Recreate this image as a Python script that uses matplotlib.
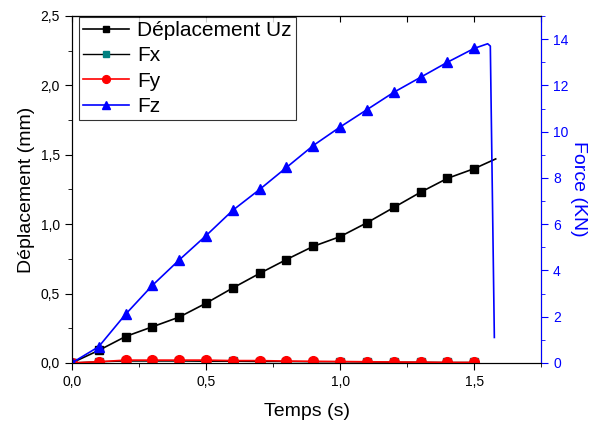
import matplotlib.pyplot as plt
from matplotlib.ticker import MultipleLocator, FuncFormatter, NullFormatter

plt.rcParams['font.family'] = ['Liberation Sans', 'DejaVu Sans']

# Temps (s)
t = [0.0, 0.1, 0.2, 0.3, 0.4, 0.5, 0.6, 0.7, 0.8, 0.9, 1.0, 1.1, 1.2, 1.3, 1.4, 1.5]

# Deplacement Uz (mm)
t_uz = t + [1.58]
uz = [0.0, 0.09, 0.19, 0.26, 0.33, 0.43, 0.54, 0.645, 0.745, 0.84, 0.91,
      1.01, 1.12, 1.23, 1.33, 1.40, 1.47]

# Forces (KN)
fx = [0.0, 0.05, 0.08, 0.08, 0.08, 0.07, 0.07, 0.06, 0.06, 0.05, 0.05,
      0.04, 0.03, 0.03, 0.02, 0.02]
fy = [0.0, 0.05, 0.12, 0.12, 0.12, 0.12, 0.1, 0.1, 0.08, 0.07, 0.06,
      0.05, 0.04, 0.03, 0.02, 0.02]
t_fz = t + [1.55, 1.56, 1.575]
fz = [0.0, 0.7, 2.1, 3.35, 4.45, 5.5, 6.6, 7.5, 8.45, 9.4, 10.2, 10.95,
      11.7, 12.35, 13.0, 13.6, 13.8, 13.7, 1.1]


def comma(v, pos):
    return f"{v:.1f}".replace(".", ",")


fig = plt.figure(figsize=(5.89, 4.21), dpi=100)
ax = fig.add_axes([0.122, 0.138, 0.797, 0.824])
ax2 = ax.twinx()

l1, = ax.plot(t_uz, uz, color="black", lw=1.2, marker="s", ms=6,
              markevery=list(range(len(t))), label="Déplacement Uz")
l2, = ax2.plot(t, fx, color="black", lw=1.0, marker="s", ms=6,
               mfc="#008080", mec="#008080", label="Fx")
l3, = ax2.plot(t, fy, color="red", lw=1.2, marker="o", ms=7,
               label="Fy")
l4, = ax2.plot(t_fz, fz, color="blue", lw=1.2, marker="^", ms=7,
               markevery=list(range(len(t))), label="Fz")

ax.set_xlim(0, 1.75)
ax.set_ylim(0, 2.5)
ax2.set_ylim(0, 15)

ax.xaxis.set_major_locator(MultipleLocator(0.5))
ax.xaxis.set_minor_locator(MultipleLocator(0.25))
ax.yaxis.set_major_locator(MultipleLocator(0.5))
ax.yaxis.set_minor_locator(MultipleLocator(0.25))
ax.xaxis.set_major_formatter(FuncFormatter(comma))
ax.yaxis.set_major_formatter(FuncFormatter(comma))
ax2.yaxis.set_major_locator(MultipleLocator(2))
ax2.yaxis.set_minor_locator(MultipleLocator(1))

ax.tick_params(axis="both", which="major", direction="out", length=5,
               labelsize=10)
ax.tick_params(axis="both", which="minor", direction="out", length=3)
ax2.tick_params(axis="y", which="major", direction="out", length=5,
                colors="blue", labelsize=10)
ax2.tick_params(axis="y", which="minor", direction="out", length=3,
                colors="blue")
ax2.spines["right"].set_color("blue")

# top axis: inward ticks, no labels
top = ax.secondary_xaxis("top")
top.xaxis.set_major_locator(MultipleLocator(0.25))
top.xaxis.set_major_formatter(NullFormatter())
top.tick_params(axis="x", direction="in", length=4)

ax.set_xlabel("Temps (s)", fontsize=14, labelpad=10)
ax.set_ylabel("Déplacement (mm)", fontsize=14)
fig.text(579 / 589, 1 - 189 / 421, "Force (KN)", fontsize=14, color="blue",
         rotation=-90, ha="center", va="center")

leg = ax.legend(handles=[l1, l2, l3, l4], loc="upper left", fontsize=15,
                frameon=True, fancybox=False, edgecolor="black",
                bbox_to_anchor=(0.015, 0.997), borderaxespad=0,
                handlelength=2.2, handletextpad=0.4, labelspacing=0.3,
                borderpad=0.2, markerscale=0.8)
leg.get_frame().set_linewidth(0.8)

fig.savefig("out.png", dpi=100)
